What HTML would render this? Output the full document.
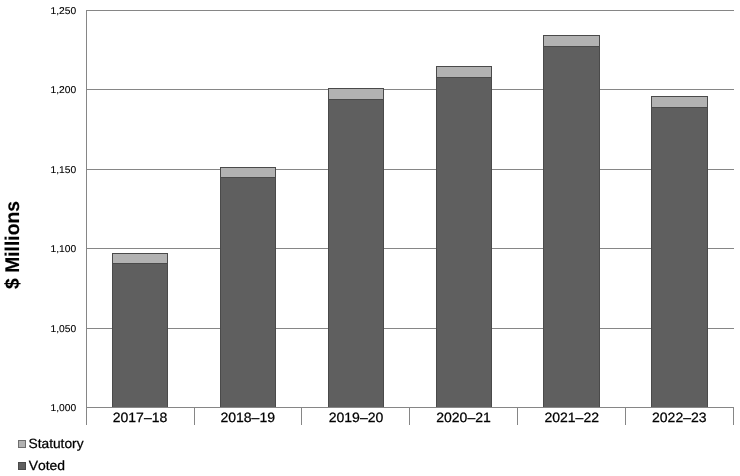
<!DOCTYPE html>
<html lang="en">
<head>
<meta charset="utf-8">
<title>Departmental spending trend graph</title>
<style>
  html, body { margin: 0; padding: 0; background: #ffffff; }
  body { width: 740px; height: 476px; overflow: hidden; }
  svg { display: block; }
  text { text-rendering: geometricPrecision; stroke: #000000; stroke-width: 0.25px; }
  .ax  { fill: #868686; }
  .dk  { fill: #5f5f5f; stroke: #4a4a4a; stroke-width: 1; }
  .lt  { fill: #b2b2b2; stroke: #4a4a4a; stroke-width: 1; }
  .ylab { font-family: "Liberation Sans", sans-serif; font-size: 9.9px; fill: #000000; text-anchor: end; font-kerning: none; stroke-width: 0.1px; }
  .xlab { font-family: "Liberation Sans", sans-serif; font-size: 13.5px; fill: #000000; text-anchor: middle; font-kerning: none; }
  .leg  { font-family: "Liberation Sans", sans-serif; font-size: 13.4px; fill: #000000; font-kerning: none; }
  .ttl  { font-family: "Liberation Sans", sans-serif; font-size: 19.3px; font-weight: bold; fill: #000000; text-anchor: middle; font-kerning: none; stroke-width: 0.12px; }
</style>
</head>
<body>
<svg width="740" height="476" viewBox="0 0 740 476" style="will-change: transform;">
  <rect x="0" y="0" width="740" height="476" fill="#ffffff"/>

  <!-- horizontal gridlines -->
  <g class="ax" shape-rendering="crispEdges">
    <rect x="86" y="10"  width="648" height="1"/>
    <rect x="86" y="89"  width="648" height="1"/>
    <rect x="86" y="169" width="648" height="1"/>
    <rect x="86" y="248" width="648" height="1"/>
    <rect x="86" y="328" width="648" height="1"/>
    <rect x="86" y="407" width="648" height="1"/>
    <!-- vertical axis + category ticks -->
    <rect x="86"  y="10"  width="1" height="415"/>
    <rect x="194" y="407" width="1" height="18"/>
    <rect x="301" y="407" width="1" height="18"/>
    <rect x="409" y="407" width="1" height="18"/>
    <rect x="517" y="407" width="1" height="18"/>
    <rect x="625" y="407" width="1" height="18"/>
    <rect x="733" y="407" width="1" height="18"/>
  </g>

  <!-- bars: voted (dark) + statutory (light) -->
  <g shape-rendering="crispEdges">
    <rect class="dk" x="112.5" y="263.5" width="55" height="144"/>
    <rect class="lt" x="112.5" y="253.5" width="55" height="10"/>

    <rect class="dk" x="220.5" y="177.5" width="55" height="230"/>
    <rect class="lt" x="220.5" y="167.5" width="55" height="10"/>

    <rect class="dk" x="328.5" y="99.5"  width="55" height="308"/>
    <rect class="lt" x="328.5" y="88.5"  width="55" height="11"/>

    <rect class="dk" x="436.5" y="77.5"  width="55" height="330"/>
    <rect class="lt" x="436.5" y="66.5"  width="55" height="11"/>

    <rect class="dk" x="543.5" y="46.5"  width="56" height="361"/>
    <rect class="lt" x="543.5" y="35.5"  width="56" height="11"/>

    <rect class="dk" x="651.5" y="107.5" width="56" height="300"/>
    <rect class="lt" x="651.5" y="96.5"  width="56" height="11"/>
  </g>
  <!-- bottom axis drawn over bar bases -->
  <rect class="ax" x="86" y="407" width="648" height="1" shape-rendering="crispEdges"/>

  <!-- y axis labels -->
  <text class="ylab" transform="translate(76.2 14) scale(1.04 1)">1,250</text>
  <text class="ylab" transform="translate(76.2 93) scale(1.04 1)">1,200</text>
  <text class="ylab" transform="translate(76.2 173) scale(1.04 1)">1,150</text>
  <text class="ylab" transform="translate(76.2 252) scale(1.04 1)">1,100</text>
  <text class="ylab" transform="translate(76.2 332) scale(1.04 1)">1,050</text>
  <text class="ylab" transform="translate(76.2 411) scale(1.04 1)">1,000</text>

  <!-- x axis labels -->
  <text class="xlab" transform="translate(140 421.8) scale(1.038 1)">2017–18</text>
  <text class="xlab" transform="translate(247.7 421.8) scale(1.038 1)">2018–19</text>
  <text class="xlab" transform="translate(356 421.8) scale(1.038 1)">2019–20</text>
  <text class="xlab" transform="translate(463.5 421.8) scale(1.038 1)">2020–21</text>
  <text class="xlab" transform="translate(571.7 421.8) scale(1.038 1)">2021–22</text>
  <text class="xlab" transform="translate(679.3 421.8) scale(1.038 1)">2022–23</text>

  <!-- y axis title -->
  <text class="ttl" transform="translate(18.6 245) rotate(-90) scale(1 1.03)">$ Millions</text>

  <!-- legend -->
  <rect x="18.5" y="440.5" width="7" height="7" fill="#b2b2b2" stroke="#6e6e6e" stroke-width="1" shape-rendering="crispEdges"/>
  <text class="leg" transform="translate(28.5 447.7) scale(1.027 1)">Statutory</text>
  <rect x="18.5" y="462.5" width="7" height="7" fill="#5f5f5f" stroke="#4a4a4a" stroke-width="1" shape-rendering="crispEdges"/>
  <text class="leg" transform="translate(28.7 469.7) scale(1.04 1)">Voted</text>
</svg>
</body>
</html>
